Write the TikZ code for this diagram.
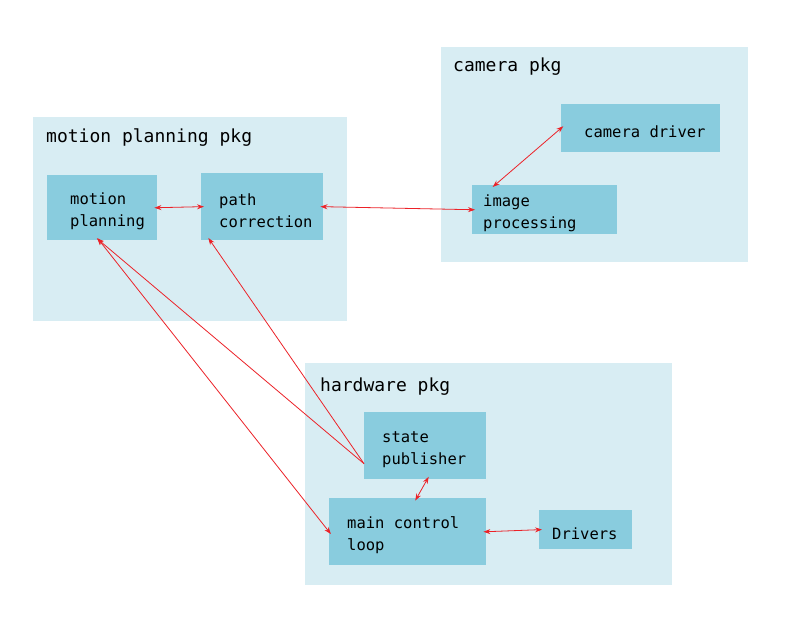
\documentclass[tikz,border=0pt]{standalone}
\usepackage{fontspec}
\usetikzlibrary{arrows.meta}
\newfontfamily\monofont{DejaVu Sans Mono}
\definecolor{pkgblue}{RGB}{216,237,243}
\definecolor{boxblue}{RGB}{137,204,222}
\definecolor{lred}{RGB}{236,34,40}
\begin{document}
\begin{tikzpicture}[x=1pt, y=-1pt,
    >={Stealth[length=7pt,width=5pt]},
    pkg/.style={fill=pkgblue, anchor=north west, inner sep=0pt},
    pkgtitle/.style={anchor=base west, inner sep=0pt, font=\monofont\fontsize{18}{22}\selectfont},
    box/.style n args={3}{fill=boxblue, anchor=north west, align=flush left, inner ysep=0pt,
                minimum height=#1, inner xsep=#2, text width=#3, text height=19pt,
                font=\monofont\fontsize{15.5}{22}\selectfont},
    link/.style={<->, lred, line width=0.8pt, shorten <=-3pt, shorten >=-3pt},
    oneway/.style={->, lred, line width=0.8pt, shorten >=-3pt},
  ]
  \useasboundingbox[fill=white] (0,0) rectangle (791,620);
  % packages
  \node[pkg, minimum width=307pt, minimum height=215pt] (campkg) at (441,47) {};
  \node[pkgtitle] (camtitle) at (453,72) {camera pkg};
  \node[pkg, minimum width=314pt, minimum height=204pt] (motpkg) at (33,117) {};
  \node[pkgtitle] (mottitle) at (46,143) {motion planning pkg};
  \node[pkg, minimum width=367pt, minimum height=222pt] (hwpkg) at (305,363) {};
  \node[pkgtitle] (hwtitle) at (320,391) {hardware pkg};
  % motion planning pkg
  \node[box={65pt}{23pt}{64pt}, minimum width=110pt] (mp) at (47,175) {motion\\planning};
  \node[box={67pt}{18pt}{86pt}, minimum width=122pt] (pc) at (201,173) {path\\correction};
  % camera pkg
  \node[box={48pt}{23pt}{113pt}, minimum width=159pt] (cd) at (561,104) {\mbox{camera driver}};
  \node[box={49pt}{11pt}{123pt}, minimum width=145pt] (ip) at (472,185) {image\\processing};
  % hardware pkg
  \node[box={67pt}{18pt}{86pt}, minimum width=122pt] (sp) at (364,412) {state\\publisher};
  \node[box={67pt}{18pt}{121pt}, minimum width=157pt] (mcl) at (329,498) {\mbox{main control}\\loop};
  \node[box={39pt}{13pt}{67pt}, minimum width=93pt] (drv) at (539,510) {Drivers};
  % links
  \draw[link] (mp.east) -- (pc.west);
  \draw[link] (pc.east) -- (ip.west);
  \draw[link] ([xshift=23pt]ip.north west) -- (cd.west);
  \draw[oneway] ([yshift=-18pt]sp.west) -- ([xshift=-3pt]mp.south);
  \draw[oneway] ([yshift=-18pt]sp.west) -- ([xshift=9pt]pc.south west);
  \draw[link] ([xshift=-3pt]mp.south) -- (mcl.west);
  \draw[link] ([xshift=2pt]sp.south) -- ([xshift=9pt]mcl.north);
  \draw[link] (mcl.east) -- (drv.west);
\end{tikzpicture}
\end{document}
